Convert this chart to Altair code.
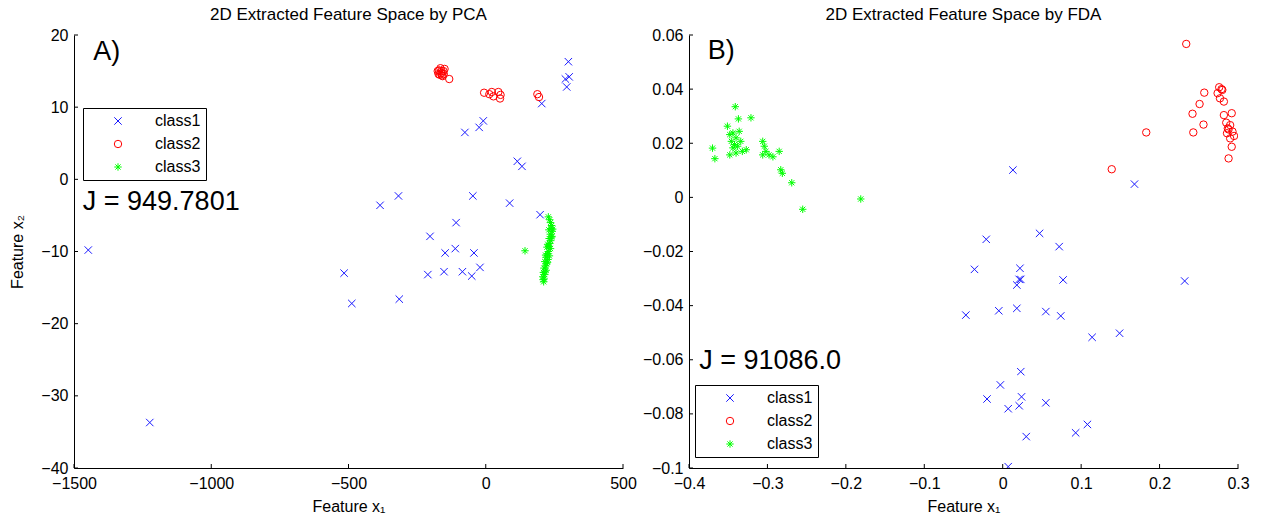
import altair as alt
import pandas as pd

FONT = "Liberation Sans"

# ---------------- Panel A (PCA) ----------------
pca_c1_x = [-1448, -1224, -516, -488, -385, -318, -315, -203, -211, -148, -152, -108, -111,
            -85, -47, -43, -51, -21, -76, -24, -9, 87, 115, 132, 198, 204, 301, 304, 290, 295]
pca_c1_y = [-9.8, -33.7, -13.0, -17.2, -3.6, -2.3, -16.6, -7.9, -13.2, -10.2, -12.8, -6.0, -9.6,
            -12.8, -2.3, -10.2, -13.4, -12.2, 6.5, 7.2, 8.1, -3.3, 2.5, 1.8, -4.9, 10.5, 16.3, 14.2, 13.9, 12.8]

pca_c2_x = [-170, -162, -154, -160, -172, -150, -165, -157, -161, -168, -153, -175, -133,
            -6, 13, 28, 46, 52, 22, 54, 188, 194]
pca_c2_y = [15.1, 14.7, 15.0, 14.4, 14.6, 15.3, 15.4, 14.3, 15.0, 14.5, 14.6, 15.0, 13.9,
            12.0, 11.8, 11.5, 12.1, 11.2, 12.1, 11.7, 11.8, 11.4]

pca_c3_x = [228, 233, 236, 240, 238, 242, 235, 240, 237, 233, 230, 236, 228, 225, 232, 220,
            227, 215, 222, 218, 212, 220, 210, 215, 208, 213, 211, 225, 230, 218, 226, 241,
            244, 231, 223, 216, 209, 143]
pca_c3_y = [-5.2, -5.6, -6.0, -6.4, -6.8, -7.2, -7.6, -8.0, -8.5, -8.9, -9.3, -9.6, -10.0, -10.3,
            -10.6, -10.8, -11.1, -11.4, -11.7, -12.0, -12.3, -12.6, -12.9, -13.2, -13.5, -13.8,
            -14.2, -11.5, -7.0, -10.5, -9.0, -7.9, -6.9, -8.2, -9.4, -12.8, -13.9, -9.9]

# ---------------- Panel B (FDA) ----------------
fda_c1_x = [0.013, 0.168, -0.021, 0.047, 0.072, -0.036, 0.022, 0.021, 0.023, 0.018, 0.077, 0.232,
            -0.047, -0.005, 0.018, 0.055, 0.074, 0.114, 0.149, 0.023, -0.003, -0.020, 0.024,
            0.021, 0.007, 0.055, 0.108, 0.093, 0.030, 0.007]
fda_c1_y = [0.0101, 0.0049, -0.0155, -0.0133, -0.0182, -0.0266, -0.0262, -0.0303, -0.0303,
            -0.0324, -0.0305, -0.0309, -0.0435, -0.0419, -0.0410, -0.0422, -0.0438, -0.0517,
            -0.0502, -0.0644, -0.0693, -0.0745, -0.0737, -0.0770, -0.0781, -0.0759, -0.0839,
            -0.0870, -0.0884, -0.0995]

fda_c2_x = [0.234, 0.139, 0.183, 0.243, 0.256, 0.242, 0.251, 0.257, 0.276, 0.280, 0.274, 0.277,
            0.282, 0.279, 0.292, 0.282, 0.285, 0.290, 0.288, 0.293, 0.286, 0.295, 0.290, 0.287,
            0.292, 0.288]
fda_c2_y = [0.0567, 0.0104, 0.0240, 0.0240, 0.0269, 0.0309, 0.0345, 0.0387, 0.0407, 0.0397,
            0.0385, 0.0366, 0.0354, 0.0400, 0.0311, 0.0304, 0.0276, 0.0267, 0.0251, 0.0243,
            0.0237, 0.0227, 0.0218, 0.0255, 0.0187, 0.0144]

fda_c3_x = [-0.341, -0.337, -0.321, -0.351, -0.370, -0.367, -0.348, -0.344, -0.346, -0.340,
            -0.336, -0.342, -0.334, -0.348, -0.340, -0.332, -0.327, -0.344, -0.338, -0.306,
            -0.304, -0.302, -0.306, -0.298, -0.285, -0.283, -0.281, -0.269, -0.255, -0.181, -0.293]
fda_c3_y = [0.0335, 0.0290, 0.0294, 0.0263, 0.0182, 0.0143, 0.0232, 0.0238, 0.0207, 0.0220,
            0.0244, 0.0195, 0.0207, 0.0157, 0.0164, 0.0170, 0.0176, 0.0183, 0.0189, 0.0207,
            0.0189, 0.0170, 0.0157, 0.0157, 0.0170, 0.0102, 0.0089, 0.0054, -0.0044, -0.0006, 0.0150]

classes = ["class1", "class2", "class3"]
colors = ["#1A1AFF", "#FF0000", "#00FF00"]
X_PATH = "M-1,-1L1,1M-1,1L1,-1"
STAR_PATH = "M-1,0L1,0M0,-1L0,1M-0.7,-0.7L0.7,0.7M-0.7,0.7L0.7,-0.7"
shapes = [X_PATH, "circle", STAR_PATH]

pca_xticks = [-1500, -1000, -500, 0, 500]
pca_yticks = [-40, -30, -20, -10, 0, 10, 20]
fda_xticks = [-0.4, -0.3, -0.2, -0.1, 0, 0.1, 0.2, 0.3]
fda_yticks = [-0.1, -0.08, -0.06, -0.04, -0.02, 0, 0.02, 0.04, 0.06]

W, H = 549, 433
FS = 16


def frame(xs_list, ys_list):
    rows = []
    for cls, xs, ys in zip(classes, xs_list, ys_list):
        for a, b in zip(xs, ys):
            rows.append({"x": a, "y": b, "cls": cls})
    return pd.DataFrame(rows)


def panel(df, xdom, ydom, xticks, yticks, ytitle, title, letter, letter_xy, jtext, j_xy,
          leg_x, leg_y, fmt_x, fmt_y):
    xs = alt.Scale(domain=xdom, nice=False, zero=False)
    ys = alt.Scale(domain=ydom, nice=False, zero=False)
    leg = alt.Legend(orient="none", legendX=leg_x, legendY=leg_y, title=None,
                     strokeColor="black", fillColor="white", padding=5,
                     symbolOffset=22, labelOffset=29, rowPadding=7,
                     labelFontSize=FS, labelFont=FONT, labelColor="black",
                     symbolSize=55, symbolStrokeWidth=1)
    xaxis = alt.Axis(values=xticks, format=fmt_x, title="Feature x\u2081", grid=False,
                     ticks=False, domainColor="black", labelPadding=7,
                     labelFontSize=FS, labelFont=FONT, labelColor="black",
                     titleFont=FONT, titleFontSize=FS, titleFontWeight="normal",
                     titleColor="black", titlePadding=7, labelFlush=False)
    yaxis = alt.Axis(values=yticks, format=fmt_y, grid=False, ticks=False,
                     domainColor="black", labelPadding=6, labelFontSize=FS, labelFont=FONT,
                     labelColor="black", titleFont=FONT, titleFontSize=FS,
                     titleFontWeight="normal", titleColor="black", titlePadding=15.5,
                     labelFlush=False, title=ytitle if ytitle else "")

    pts = alt.Chart(df).mark_point(filled=False, strokeWidth=1, opacity=1, clip=True).encode(
        x=alt.X("x:Q", scale=xs, axis=xaxis),
        y=alt.Y("y:Q", scale=ys, axis=yaxis),
        color=alt.Color("cls:N", scale=alt.Scale(domain=classes, range=colors), legend=leg),
        shape=alt.Shape("cls:N", scale=alt.Scale(domain=classes, range=shapes), legend=leg),
        size=alt.value(55),
    )
    ytk = alt.Chart(pd.DataFrame({"y": yticks})).mark_rule(color="black", strokeWidth=1).encode(
        y=alt.Y("y:Q", scale=ys, axis=yaxis), x=alt.value(0), x2=alt.value(4))
    xtk = alt.Chart(pd.DataFrame({"x": xticks})).mark_rule(color="black", strokeWidth=1).encode(
        x=alt.X("x:Q", scale=xs, axis=xaxis), y=alt.value(H), y2=alt.value(H - 4))
    ann = pd.DataFrame({"x": [letter_xy[0], j_xy[0]], "y": [letter_xy[1], j_xy[1]],
                        "t": [letter, jtext]})
    txt = alt.Chart(ann).mark_text(align="left", baseline="middle", fontSize=27, font=FONT,
                                   color="black").encode(
        x=alt.X("x:Q", scale=xs, axis=xaxis), y=alt.Y("y:Q", scale=ys, axis=yaxis), text="t:N")
    return alt.layer(pts, ytk, xtk, txt).properties(
        width=W, height=H,
        title=alt.TitleParams(title, fontSize=17, font=FONT, fontWeight="normal",
                              color="black", offset=3, anchor="middle"))


pca_df = frame([pca_c1_x, pca_c2_x, pca_c3_x], [pca_c1_y, pca_c2_y, pca_c3_y])
fda_df = frame([fda_c1_x, fda_c2_x, fda_c3_x], [fda_c1_y, fda_c2_y, fda_c3_y])

left = panel(pca_df, [-1500, 500], [-40, 20], pca_xticks, pca_yticks, "Feature x\u2082",
             "2D Extracted Feature Space by PCA", "A)", (-1430, 17.6), "J = 949.7801",
             (-1468, -3.1), 9, 73, "d", "d")
right = panel(fda_df, [-0.4, 0.3], [-0.1, 0.06], fda_xticks, fda_yticks, None,
              "2D Extracted Feature Space by FDA", "B)", (-0.376, 0.0542), "J = 91086.0",
              (-0.387, -0.0605), 6, 350, "g", "g")

chart = alt.hconcat(left, right, spacing=5).resolve_scale(
    color="independent", shape="independent").resolve_legend(
    color="independent", shape="independent").properties(
    padding={"left": 9, "top": 6, "right": 5, "bottom": 3}).configure_view(stroke=None)

chart.save("out.html", embed_options={"renderer": "svg", "actions": False})
